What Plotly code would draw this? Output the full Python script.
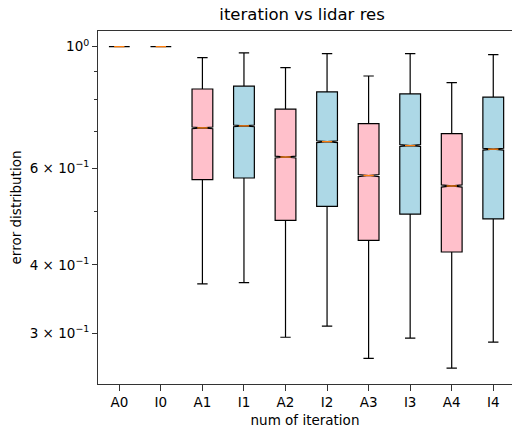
import plotly.graph_objects as go

categories = ["A0", "I0", "A1", "I1", "A2", "I2", "A3", "I3", "A4", "I4"]
upper = [1.0, 1.0, 0.955, 0.974, 0.916, 0.971, 0.884, 0.971, 0.860, 0.967]
q3 = [1.0, 1.0, 0.837, 0.847, 0.769, 0.827, 0.724, 0.820, 0.694, 0.809]
median = [1.0, 1.0, 0.711, 0.717, 0.629, 0.671, 0.582, 0.660, 0.557, 0.650]
q1 = [1.0, 1.0, 0.572, 0.576, 0.482, 0.511, 0.443, 0.495, 0.422, 0.485]
lower = [1.0, 1.0, 0.369, 0.371, 0.295, 0.309, 0.270, 0.294, 0.259, 0.289]
notch = [0.0, 0.0, 0.0025, 0.0025, 0.0025, 0.0025, 0.0025, 0.0025, 0.0025, 0.0025]

ytick_vals = [0.3, 0.4, 0.6, 1.0]
ytick_text = ["3 × 10<sup>−1</sup>", "4 × 10<sup>−1</sup>", "6 × 10<sup>−1</sup>", "10<sup>0</sup>"]
yminor_vals = [0.5, 0.7, 0.8, 0.9]

colors = {"A": "#FFC0CB", "I": "#ADD8E6"}
FONT = "DejaVu Sans"

fig = go.Figure()
for grp in ["A", "I"]:
    idx = [i for i, c in enumerate(categories) if c.startswith(grp)]
    fig.add_trace(go.Box(
        x=idx,
        q1=[q1[i] for i in idx],
        median=[median[i] for i in idx],
        q3=[q3[i] for i in idx],
        lowerfence=[lower[i] for i in idx],
        upperfence=[upper[i] for i in idx],
        notchspan=[notch[i] for i in idx],
        notched=True,
        notchwidth=0.5,
        width=0.5,
        whiskerwidth=0.5,
        fillcolor=colors[grp],
        line=dict(color="black", width=1.2),
        boxpoints=False,
        hoverinfo="skip",
        showlegend=False,
    ))

# orange median lines
mx, my = [], []
for i, m in enumerate(median):
    mx += [i - 0.125, i + 0.125, None]
    my += [m, m, None]
fig.add_trace(go.Scatter(x=mx, y=my, mode="lines",
                         line=dict(color="#FF7F0E", width=1.3),
                         hoverinfo="skip", showlegend=False))

fig.update_layout(
    width=512, height=428,
    margin=dict(l=98, r=0, t=31, b=44),
    paper_bgcolor="white", plot_bgcolor="white",
    boxmode="overlay",
    font=dict(family=FONT, size=13.5, color="black"),
    title=dict(text="iteration vs lidar res", x=0.59, xanchor="center",
               y=1 - 14.5 / 428, yanchor="middle", font=dict(size=16.5)),
)
fig.update_xaxes(
    range=[-0.513, 9.451],
    tickmode="array", tickvals=list(range(len(categories))), ticktext=categories,
    showgrid=False, zeroline=False,
    showline=True, linecolor="#333", linewidth=1, mirror=True,
    ticks="outside", ticklen=6, tickcolor="#333",
    title=dict(text="num of iteration", standoff=6, font=dict(size=13.5)),
)
fig.update_yaxes(
    type="log", range=[-0.6155, 0.0286],
    tickmode="array", tickvals=ytick_vals, ticktext=ytick_text,
    showgrid=False, zeroline=False,
    showline=True, linecolor="#333", linewidth=1,
    ticks="outside", ticklen=5, tickcolor="#333",
    minor=dict(tickmode="array", tickvals=yminor_vals, ticklen=3, tickcolor="#333", showgrid=False),
    title=dict(text="error distribution", standoff=4, font=dict(size=13.5)),
)

fig.write_html("out.html", config={"displayModeBar": False},
               post_script="document.body.style.margin='0';")
